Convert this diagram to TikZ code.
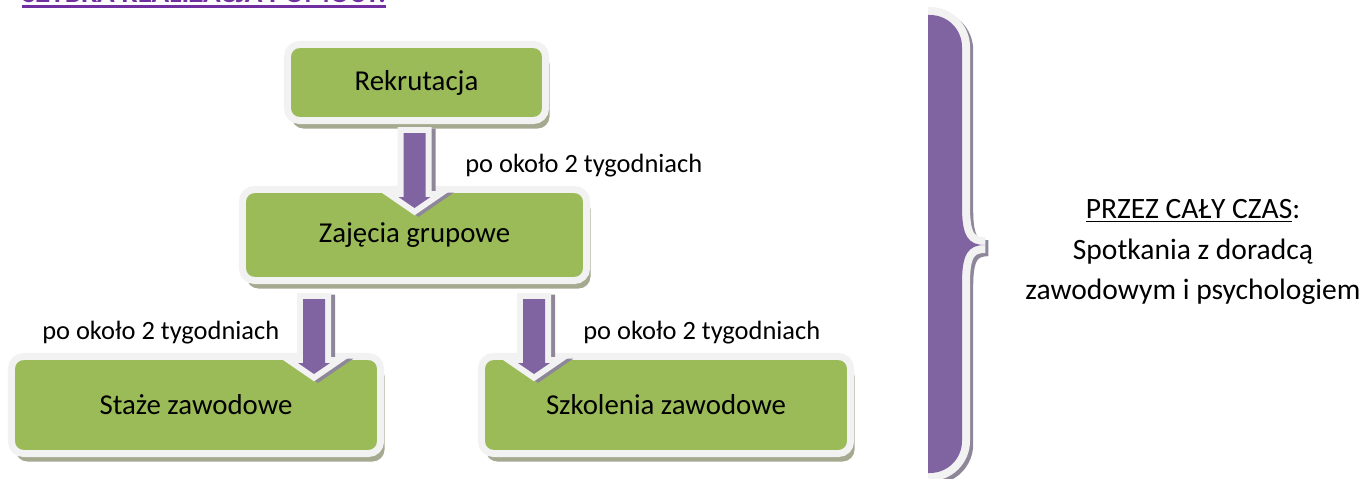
\documentclass[tikz,border=0pt]{standalone}
\usepackage{fontspec}
\setmainfont{Carlito}
\usetikzlibrary{positioning,calc,shadows}
\definecolor{boxgreen}{HTML}{9BBB59}
\definecolor{framegray}{HTML}{F2F2F2}
\definecolor{arrowpurple}{HTML}{8064A2}
\definecolor{titlepurple}{HTML}{7030A0}
\definecolor{shadowolive}{HTML}{A4A98F}
\definecolor{shadowviolet}{HTML}{8E8799}
\newcommand{\bracepath}{(928,15) [rounded corners=0.8cm] -- (962,15) [sharp corners] -- (962,207)
  .. controls (962,236) and (968,245) .. (985,245)
  .. controls (968,245) and (962,254) .. (962,283) -- (962,400) [rounded corners=0.8cm] -- (962,473) [sharp corners] -- (928,473)}

\begin{document}
\begin{tikzpicture}[x=0.025cm, y=-0.025cm,
    stepbox/.style={rectangle, rounded corners=0.3cm, draw=framegray, line width=0.175cm,
      fill=boxgreen, outer sep=0pt, inner sep=0pt, font=\fontsize{20.5}{24}\selectfont,
      drop shadow={shadow xshift=0.1cm, shadow yshift=-0.2cm, fill=shadowolive, opacity=1}},
    flowarrow/.style={fill=arrowpurple,
      drop shadow={shadow xshift=0.1cm, shadow yshift=-0.04cm, draw=shadowviolet,
        line width=0.3cm, line join=miter, fill=shadowviolet, opacity=1},
      preaction={draw=framegray, line width=0.3cm, line join=miter}},
    delay/.style={anchor=base west, inner sep=0pt, font=\fontsize{18.8}{22}\selectfont}]
  \clip (0,0) rectangle (1364,479);

  % heading, cut by the page edge
  \node[anchor=base west, inner sep=0pt, text=titlepurple,
    font=\fontsize{20.7}{24}\selectfont\bfseries] (title) at (22,3) {SZYBKA REALIZACJA POMOCY:};
  \draw[titlepurple, line width=0.06cm] ($(title.base west)+(0,3.5)$) -- ($(title.base east)+(0,3.5)$);

  % steps
  \node[stepbox, minimum width=6.45cm, minimum height=1.9cm] (rek) at (416.5,82.5) {Rekrutacja};
  \node[stepbox, minimum width=8.6cm, minimum height=2.275cm] (zaj) at (414.5,235) {Zajęcia grupowe};
  \node[stepbox, minimum width=9.225cm, minimum height=2.425cm] (staz) at (196,405) {Staże zawodowe};
  \node[stepbox, minimum width=9.225cm, minimum height=2.425cm] (szk) at (666,405) {Szkolenia zawodowe};

  % block arrows
  \coordinate (a1) at ($(rek.south -| zaj.north)+(0,12.5)$);
  \coordinate (a2) at ($(zaj.south)+(-100.5,18.5)$);
  \coordinate (a3) at ($(zaj.south)+(119.5,18.5)$);
  \foreach \a in {a1,a2,a3}
    \path[flowarrow] ($(\a)+(-11,0)$) -- ++(22,0) -- ++(0,64) -- ++(5,0) -- ++(-16,11) -- ++(-16,-11) -- ++(5,0) -- cycle;

  \node[delay] (d1) at (465,173) {po około 2 tygodniach};
  \node[delay] (d2) at (42,339) {po około 2 tygodniach};
  \node[delay] (d3) at (583,339) {po około 2 tygodniach};

  % brace
  \draw[shadowviolet, line width=0.4cm, xshift=0.08cm, yshift=-0.08cm] \bracepath;
  \draw[framegray, line width=0.4cm] \bracepath;
  \fill[arrowpurple] \bracepath -- cycle;

  \node[align=center, font=\fontsize{21}{28.5}\selectfont] (note) at (1193,252)
    {\underline{PRZEZ CAŁY CZAS}:\\ Spotkania z doradcą\\ zawodowym i psychologiem};
\end{tikzpicture}
\end{document}
